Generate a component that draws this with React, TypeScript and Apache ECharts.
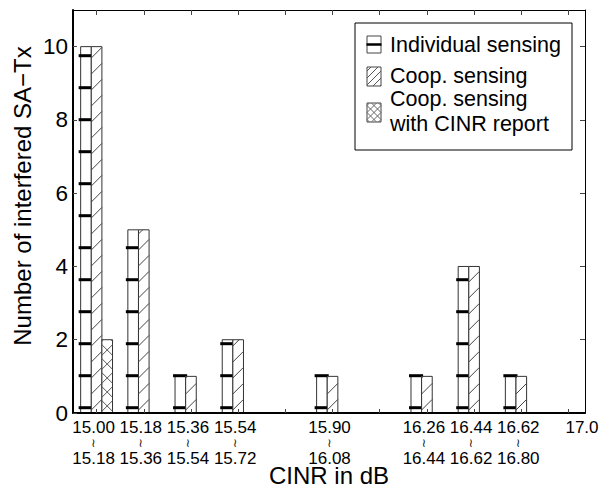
import React, { useEffect, useRef } from "react";
import * as echarts from "echarts";

// ---------- data ----------
const binStarts = ["15.00", "15.18", "15.36", "15.54", "15.72", "15.90", "16.08", "16.26", "16.44", "16.62", "16.80"];
const binEnds = ["15.18", "15.36", "15.54", "15.72", "15.90", "16.08", "16.26", "16.44", "16.62", "16.80", "16.98"];
const labeledBins = [0, 1, 2, 3, 5, 7, 8, 9];
const endLabel = "17.0";
const individualSensing = [10, 5, 1, 2, 0, 1, 0, 1, 4, 1, 0];
const coopSensing = [10, 5, 1, 2, 0, 1, 0, 1, 4, 1, 0];
const coopCinrReport = [2, 0, 0, 0, 0, 0, 0, 0, 0, 0, 0];
const yTicks = [0, 2, 4, 6, 8, 10];
const seriesNames = ["Individual sensing", "Coop. sensing", "Coop. sensing with CINR report"];

const FONT = "'Liberation Sans', Arial, Helvetica, sans-serif";
const X_MIN = -0.5;
const X_MAX = 10.35;
const BAR_FRAC = 0.225;

function hatchLine(xl: number, xr: number, top: number, bottom: number, y0: number, dir: number, stroke: string, lw: number) {
  let a: number, b: number;
  if (dir === 1) { a = y0 - bottom; b = y0 - top; } else { a = top - y0; b = bottom - y0; }
  const lo = Math.max(0, a);
  const hi = Math.min(xr - xl, b);
  if (hi - lo < 0.5) return null;
  return {
    type: "line",
    shape: { x1: xl + lo, y1: y0 - dir * lo, x2: xl + hi, y2: y0 - dir * hi },
    style: { stroke, lineWidth: lw },
    silent: true,
  };
}

function hatchSet(xl: number, xr: number, top: number, bottom: number, anchor: number, spacing: number, dir: number, stroke: string, lw: number) {
  const out: any[] = [];
  const n = Math.ceil((bottom - top + (xr - xl)) / spacing) + 3;
  for (let k = -3; k <= n; k++) {
    const l = hatchLine(xl, xr, top, bottom, anchor - spacing * k, dir, stroke, lw);
    if (l) out.push(l);
  }
  return out;
}

function decorate(kind: number, xl: number, xr: number, top: number, bottom: number, markSpacing: number, markOffset: number, diagSpacing: number, crossSpacing: number) {
  const children: any[] = [];
  const w = xr - xl;
  if (kind === 0) {
    for (let k = 0; k < 100; k++) {
      const y = bottom - markOffset - markSpacing * k;
      if (y < top - 1.5) break;
      children.push({
        type: "line",
        shape: { x1: xl - 2, y1: y, x2: xr + 1.5, y2: y },
        style: { stroke: "#000", lineWidth: 3 },
        silent: true,
      });
    }
  } else if (kind === 1) {
    children.push(...hatchSet(xl, xr, top, bottom, bottom - 3, diagSpacing, 1, "#444", 1));
  } else {
    const yc = bottom - 7;
    children.push(...hatchSet(xl, xr, top, bottom, yc + w / 2, crossSpacing, 1, "#555", 1));
    children.push(...hatchSet(xl, xr, top, bottom, yc - w / 2, crossSpacing, -1, "#555", 1));
  }
  return children;
}

function makeRender(kind: number) {
  return (params: any, api: any) => {
    const cat = api.value(0);
    const val = api.value(1);
    if (!val) return null;
    const p0 = api.coord([cat, 0]);
    const p1 = api.coord([cat, val]);
    const band = api.size([1, 0])[0];
    const bw = band * BAR_FRAC;
    const xl = p0[0] + (kind - 1.5) * bw;
    const xr = xl + bw;
    const top = p1[1];
    const bottom = p0[1];
    const children: any[] = [
      {
        type: "rect",
        shape: { x: xl, y: top, width: bw, height: bottom - top },
        style: { fill: "#fff", stroke: "#333", lineWidth: 1 },
      },
      ...decorate(kind, xl, xr, top, bottom, 32, 5.3, 16, 14),
    ];
    return { type: "group", children };
  };
}

function legendGraphics() {
  const items: any[] = [];
  items.push({
    type: "rect",
    shape: { x: 355, y: 23, width: 217, height: 127 },
    style: { fill: "#fff", stroke: "#000", lineWidth: 1 },
    z: 10,
  });
  const icons = [
    { kind: 0, x: 367, y: 36, h: 17 },
    { kind: 1, x: 367, y: 67, h: 19 },
    { kind: 2, x: 367, y: 103, h: 19 },
  ];
  icons.forEach((ic) => {
    const xl = ic.x, xr = ic.x + 14, top = ic.y, bottom = ic.y + ic.h;
    items.push({
      type: "rect",
      shape: { x: xl, y: top, width: 14, height: ic.h },
      style: { fill: "#fff", stroke: "#444", lineWidth: 1 },
      z: 11,
    });
    let deco: any[];
    if (ic.kind === 0) {
      deco = [{
        type: "line",
        shape: { x1: xl - 0.5, y1: top + ic.h / 2, x2: xr + 0.5, y2: top + ic.h / 2 },
        style: { stroke: "#000", lineWidth: 2.5 },
      }];
    } else if (ic.kind === 1) {
      deco = hatchSet(xl, xr, top, bottom, bottom - 1, 7, 1, "#555", 1);
    } else {
      const yc = (top + bottom) / 2;
      deco = [
        ...hatchSet(xl, xr, top, bottom, yc + 7, 7, 1, "#666", 1),
        ...hatchSet(xl, xr, top, bottom, yc - 7, 7, -1, "#666", 1),
      ];
    }
    deco.forEach((d) => items.push({ ...d, z: 12 }));
  });
  const texts = [
    { t: seriesNames[0], y: 45.2 },
    { t: "Coop. sensing", y: 75.8 },
    { t: "Coop. sensing", y: 98.5 },
    { t: "with CINR report", y: 124 },
  ];
  texts.forEach((tx) => {
    items.push({
      type: "text",
      x: 390,
      y: tx.y,
      z: 12,
      style: { text: tx.t, fontSize: 21.5, fontFamily: FONT, fill: "#000", align: "left", verticalAlign: "middle" },
    });
  });
  return items;
}

export default function App() {
  const ref = useRef<HTMLDivElement>(null);
  useEffect(() => {
    if (!ref.current) return;
    const chart = echarts.init(ref.current, undefined, { renderer: "svg" });
    const allTicks = binStarts.map((_, i) => i);
    const toData = (arr: number[]) => arr.map((v, i) => [i, v]);
    const option: any = {
      animation: false,
      backgroundColor: "#fff",
      grid: { left: 73, right: 20, top: 10, bottom: 74, containLabel: false, outerBoundsMode: "none" },
      xAxis: [
        {
          type: "value",
          position: "bottom",
          min: X_MIN,
          max: X_MAX,
          z: 5,
          axisLine: { show: true, onZero: false, lineStyle: { color: "#000", width: 2 } },
          axisTick: { show: true, inside: true, length: 4, customValues: allTicks, lineStyle: { color: "#444", width: 1 } },
          axisLabel: {
            show: true,
            margin: 6,
            padding: [0, 6, 0, 0],
            customValues: [...labeledBins, X_MAX],
            formatter: (v: number) => {
              if (Math.abs(v - X_MAX) < 1e-6) return `{a|${endLabel}}`;
              const i = Math.round(v);
              return `{a|${binStarts[i]}}\n{t|≀}\n{a|${binEnds[i]}}`;
            },
            rich: {
              a: { fontSize: 17, lineHeight: 17, fontFamily: FONT, color: "#000" },
              t: { fontSize: 12, lineHeight: 14, fontFamily: "'DejaVu Sans'", color: "#111" },
            },
          },
          splitLine: { show: false },
          name: "CINR in dB",
          nameLocation: "middle",
          nameGap: 55,
          nameMoveOverlap: false,
          nameTextStyle: { fontSize: 24, fontFamily: FONT, color: "#000", verticalAlign: "top", lineHeight: 14 },
        },
        {
          type: "value",
          position: "top",
          min: X_MIN,
          max: X_MAX,
          axisLine: { show: true, onZero: false, lineStyle: { color: "#000", width: 1 } },
          axisTick: { show: true, inside: true, length: 5, customValues: allTicks, lineStyle: { color: "#444", width: 1 } },
          axisLabel: { show: false },
          splitLine: { show: false },
        },
      ],
      yAxis: [
        {
          type: "value",
          position: "left",
          min: 0,
          max: 11,
          z: 5,
          axisLine: { show: true, onZero: false, lineStyle: { color: "#000", width: 2 } },
          axisTick: { show: true, inside: true, length: 4, customValues: yTicks, lineStyle: { color: "#444", width: 1 } },
          axisLabel: { show: true, margin: 5, fontSize: 22.5, fontFamily: FONT, color: "#000", customValues: yTicks },
          splitLine: { show: false },
        },
        {
          type: "value",
          position: "right",
          min: 0,
          max: 11,
          axisLine: { show: true, onZero: false, lineStyle: { color: "#000", width: 1 } },
          axisTick: { show: true, inside: true, length: 5, customValues: yTicks, lineStyle: { color: "#444", width: 1 } },
          axisLabel: { show: false },
          splitLine: { show: false },
        },
      ],
      series: [
        { name: seriesNames[0], type: "custom", xAxisIndex: 0, yAxisIndex: 0, renderItem: makeRender(0), data: toData(individualSensing), z: 2 },
        { name: seriesNames[1], type: "custom", xAxisIndex: 0, yAxisIndex: 0, renderItem: makeRender(1), data: toData(coopSensing), z: 2 },
        { name: seriesNames[2], type: "custom", xAxisIndex: 0, yAxisIndex: 0, renderItem: makeRender(2), data: toData(coopCinrReport), z: 2 },
      ],
      graphic: [
        {
          type: "text",
          x: 22.5,
          y: 196,
          rotation: Math.PI / 2,
          style: { text: "Number of interfered SA−Tx", fontSize: 24, fontFamily: FONT, fill: "#000", align: "center", verticalAlign: "middle" },
        },
        ...legendGraphics(),
      ],
    };
    chart.setOption(option);
    return () => chart.dispose();
  }, []);
  return <div ref={ref} style={{ position: "fixed", left: 0, top: 0, width: 605, height: 487, background: "#fff" }} />;
}
